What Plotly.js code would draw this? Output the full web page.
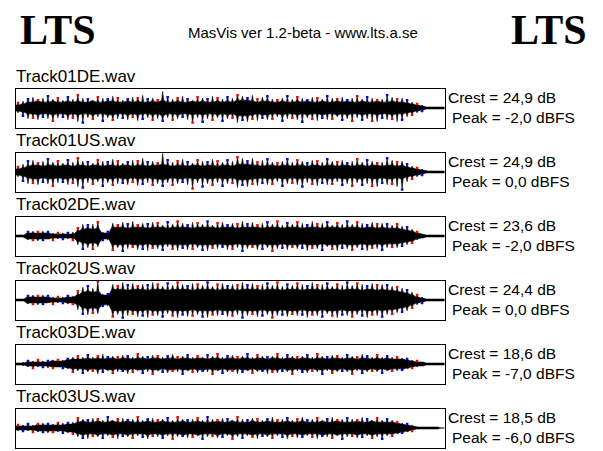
<!DOCTYPE html>
<html><head><meta charset="utf-8">
<script src="https://cdn.plot.ly/plotly-3.0.1.min.js"></script>
<style>html,body{margin:0;padding:0;background:#fff}#chart{width:603px;height:451px}</style>
</head><body><div id="chart"></div>
<script>
const trackNames = ['Track01DE.wav','Track01US.wav','Track02DE.wav','Track02US.wav','Track03DE.wav','Track03US.wav'];
const crestDb = ['24,9','24,9','23,6','24,4','18,6','18,5'];
const peakDbfs = ['-2,0','0,0','-2,0','0,0','-7,0','-6,0'];

// amplitude per column, box half-height = 20
const t1body = [3,4,6,6,7,6,6,7,6,6, 7,6,7,6,6,7,6,6,7,7, 6,6,7,6,7,6,6,7,6,8, 6,6,7,6,6,7,6,7,6,6, 7,6,7,6,8,8,8,7,6,7, 7,6,6,7,6,6,7,6,7,6, 6,7,6,6,7,6,7,6,6,7, 6,6,7,6,6,7,6,6,5,4, 3,2,1,1,1,1];
const t1up   = [5,7,9,11,8,10,12,9,10,8, 11,9,13,10,9,8,11,10,9,12, 10,8,9,11,10,13,9,10,8,17, 11,9,10,12,9,8,11,10,9,12, 10,9,11,10,13,12,10,13,9,11, 12,9,8,10,12,9,11,10,8,11, 10,9,12,10,9,11,8,10,12,9, 11,10,8,9,13,11,9,10,8,6, 4,3,1,1,1,1];
const t1dn   = [5,8,11,10,12,9,11,13,10,9, 12,10,14,15,10,11,9,13,10,12, 11,10,12,9,13,11,10,12,11,13, 10,12,11,9,12,15,10,14,11,12, 10,13,11,10,15,12,14,11,13,10, 12,11,9,13,11,10,12,14,10,11, 13,10,12,11,9,12,11,13,10,12, 11,13,14,10,12,11,14,12,9,7, 5,3,1,1,1,1];

const t2body = [3,4,6,7,7,6,7,7,6,7, 7,6,7,7,6,7,7,6,7,7, 6,7,7,6,7,7,6,7,7,8, 7,6,7,7,6,7,7,6,7,7, 6,7,7,6,8,8,8,7,7,6, 7,7,6,7,7,6,7,7,6,7, 7,6,7,7,6,7,7,6,7,7, 6,7,7,6,7,7,6,7,5,4, 3,2,1,1,1,1];
const t2up   = [5,8,11,12,9,11,13,10,11,9, 12,10,14,11,10,9,12,11,10,13, 11,9,10,12,11,14,10,11,9,19, 12,10,11,13,10,9,12,11,10,13, 11,10,12,11,15,14,11,14,10,12, 13,10,9,11,13,10,12,11,9,12, 11,10,13,11,10,12,9,11,13,10, 12,11,9,10,14,12,10,11,8,6, 4,3,1,1,1,1];
const t2dn   = [5,9,12,11,13,10,12,14,11,10, 13,11,15,16,11,12,10,14,11,13, 12,11,13,10,14,12,11,13,12,14, 11,13,12,10,13,17,11,15,12,13, 11,14,12,11,16,13,15,12,14,11, 13,12,10,14,12,11,13,15,11,12, 14,11,13,12,10,13,12,14,11,13, 12,14,15,11,13,12,15,18,10,7, 5,3,1,1,1,1];

const t3body = [1,1,3,3,3,3,3,2,2,2, 2,2,5,7,8,7,8,3,3,9, 9,9,8,9,9,9,8,9,9,9, 8,9,9,9,9,8,9,9,9,9, 8,9,9,9,8,9,9,9,9,8, 9,9,9,8,9,9,9,8,9,9, 9,8,9,9,9,8,9,9,9,8, 9,9,8,9,8,8,8,7,6,5, 3,2,1,1,1,1];
const t3up   = [1,1,4,5,4,5,4,3,3,3, 3,4,8,12,11,12,14,4,4,13, 11,14,12,15,11,13,12,14,13,11, 14,12,15,13,11,14,13,12,15,11, 13,14,11,13,12,15,12,14,11,13, 14,12,15,11,13,12,14,13,11,15, 12,13,14,11,13,12,15,12,14,13, 11,14,12,13,12,11,12,10,9,7, 4,2,1,1,1,1];
const t3dn   = [1,1,4,4,5,4,3,4,3,3, 3,4,9,13,12,13,11,4,4,14, 12,15,13,11,14,13,15,12,13,14, 11,13,15,12,14,13,12,14,15,12, 13,11,14,13,12,15,13,11,14,13, 12,15,13,12,14,11,13,12,15,12, 13,14,11,13,15,12,13,14,12,13, 15,12,13,14,12,11,12,10,9,7, 4,2,1,1,1,1];

const t4body = [1,1,3,3,3,3,3,2,2,2, 3,3,5,8,9,8,9,5,5,11, 11,11,10,11,11,11,10,11,11,11, 10,11,11,11,11,10,11,11,11,11, 10,11,11,11,10,11,11,11,11,10, 11,11,11,10,11,11,11,10,11,11, 11,10,11,11,11,10,11,11,11,10, 11,11,10,11,10,10,9,8,7,5, 3,2,1,1,1,1];
const t4up   = [1,1,4,5,4,5,4,3,3,3, 4,4,9,13,14,12,19,6,6,16, 14,18,15,17,14,16,15,18,16,14, 17,15,18,16,14,17,16,15,18,14, 16,17,14,16,15,18,15,17,14,16, 17,15,18,14,16,15,17,16,14,18, 15,16,17,14,16,15,18,15,17,16, 14,17,15,16,15,14,13,12,10,8, 5,3,1,1,1,1];
const t4dn   = [1,1,4,4,5,4,3,4,3,3, 4,4,10,14,15,13,14,6,6,17, 15,18,16,14,17,16,18,15,16,17, 14,16,18,15,17,16,15,17,18,15, 16,14,17,16,15,18,16,14,17,16, 15,18,16,15,17,14,16,15,18,15, 16,17,14,16,18,15,16,17,15,16, 18,15,16,17,15,14,13,12,11,8, 5,3,1,1,1,1];

const t5body = [1,1,2,2,2,2,2,3,3,3, 4,5,5,5,6,5,6,5,6,6, 5,6,6,5,6,6,5,6,6,5, 6,6,5,6,6,5,6,6,5,6, 6,5,6,6,5,6,6,5,6,6, 5,6,6,5,6,6,5,6,6,5, 6,6,5,6,6,5,6,6,5,6, 6,5,6,5,6,5,5,5,4,3, 2,2,1,1,1,1];
const t5up   = [1,2,3,3,4,3,3,4,4,4, 5,7,8,7,9,7,8,10,7,8, 7,9,8,7,10,8,7,9,8,7, 8,10,7,8,9,7,8,7,9,8, 10,7,8,9,7,8,10,7,9,8, 7,8,10,7,9,8,7,8,9,7, 10,8,7,9,8,7,9,8,7,10, 8,7,9,7,8,7,7,6,5,4, 3,2,1,1,1,1];
const t5dn   = [1,2,3,4,3,3,4,4,3,4, 5,8,7,9,8,7,10,8,7,9, 8,7,10,8,7,9,8,10,7,8, 9,7,8,10,7,8,9,7,8,10, 7,9,8,7,10,8,7,9,8,7, 10,8,9,7,8,10,7,8,9,7, 8,10,7,9,8,7,8,10,7,9, 8,7,8,9,7,7,7,6,5,4, 3,2,1,1,1,1];

const t6body = [2,2,2,2,3,3,3,3,3,3, 4,4,6,7,6,6,7,6,6,7, 6,6,7,6,6,6,7,6,6,7, 6,6,6,7,6,6,7,6,6,6, 7,6,6,7,6,6,6,7,6,6, 7,6,6,6,7,6,6,7,6,6, 6,7,6,6,7,6,6,6,7,6, 6,7,6,6,6,6,5,4,3,2, 1,1,1,1,1,0];
const t6up   = [3,3,4,3,4,5,4,4,5,5, 5,6,10,9,8,10,9,8,11,8, 9,10,8,9,11,8,9,10,8,9, 10,8,11,9,8,9,10,8,11,9, 8,10,9,8,11,9,8,10,9,8, 9,11,8,9,10,8,9,11,8,9, 10,8,9,11,8,9,10,9,8,11, 9,8,10,8,9,8,6,5,4,3, 1,1,1,1,1,0];
const t6dn   = [3,3,3,4,4,4,5,4,4,5, 5,6,9,10,11,8,9,10,8,9, 11,8,9,10,8,9,11,8,9,10, 8,11,9,8,10,9,8,11,9,8, 10,9,8,11,9,10,8,9,11,8, 9,10,8,9,11,8,10,9,8,9, 11,8,9,10,8,11,9,8,10,9, 8,10,9,11,8,8,6,5,4,3, 1,1,1,1,1,0];

const bodies = [t1body,t2body,t3body,t4body,t5body,t6body];
const ups = [t1up,t2up,t3up,t4up,t5up,t6up];
const dns = [t1dn,t2dn,t3dn,t4dn,t5dn,t6dn];

const W = 603, H = 451;
const boxTops = [88,152,216,280,344,408];
const boxH = 39;
const py = p => 1 - p / H;
const px = p => p / W;
const sans = 'Arial, "Liberation Sans", sans-serif';
const half = 0.2;   // half-width of each spike, in columns

const traces = [];
const layout = {
  width: W, height: H, margin: {l:0, r:0, t:0, b:0},
  paper_bgcolor: '#fff', plot_bgcolor: '#fff',
  showlegend: false, annotations: []
};

for (let k = 0; k < 6; k++) {
  const ax = k === 0 ? '' : String(k + 1);
  const body = bodies[k], up = ups[k], dn = dns[k];
  const n = body.length;
  const ox = [], oy = [];
  ox.push(-0.5); oy.push(body[0]);
  for (let i = 0; i < n; i++) {
    ox.push(i - half, i, i + half); oy.push(body[i], up[i], body[i]);
  }
  ox.push(n - 0.5); oy.push(body[n - 1]);
  ox.push(n - 0.5); oy.push(-body[n - 1]);
  for (let i = n - 1; i >= 0; i--) {
    ox.push(i + half, i, i - half); oy.push(-body[i], -dn[i], -body[i]);
  }
  ox.push(-0.5); oy.push(-body[0]);

  const tipX = [], tipY = [], tipC = [];
  up.forEach((v, i) => {
    if (v >= 3 && (i % 4 === 0 || i % 4 === 2)) { tipX.push(i); tipY.push(v); tipC.push(i % 4 === 0 ? '#ff0000' : '#0000ff'); }
  });
  dn.forEach((v, i) => {
    if (v >= 3 && (i % 4 === 1 || i % 4 === 3)) { tipX.push(i); tipY.push(-v); tipC.push(i % 4 === 1 ? '#0000ff' : '#ff0000'); }
  });

  traces.push({type:'scatter', mode:'lines', x: ox, y: oy, fill:'toself', fillcolor:'#000',
    line:{width:0.6, color:'#000'}, xaxis:'x'+ax, yaxis:'y'+ax, hoverinfo:'skip'});
  traces.push({type:'scatter', mode:'markers', x: tipX, y: tipY,
    marker:{symbol:'square', size:2.5, color: tipC, line:{width:0}},
    xaxis:'x'+ax, yaxis:'y'+ax, hoverinfo:'skip'});

  const top = boxTops[k];
  layout['xaxis'+ax] = {domain:[px(15.5), px(444.5)], range:[-0.5, n - 0.5], anchor:'y'+ax,
    showline:true, mirror:true, linecolor:'#000', linewidth:1, showgrid:false, zeroline:false,
    showticklabels:false, ticks:'', fixedrange:true};
  layout['yaxis'+ax] = {domain:[py(top + boxH + 0.5), py(top + 0.5)], range:[-20, 20], anchor:'x'+ax,
    showline:true, mirror:true, linecolor:'#000', linewidth:1, showgrid:false, zeroline:false,
    showticklabels:false, ticks:'', fixedrange:true};

  layout.annotations.push({xref:'paper', yref:'paper', x: px(14), y: py(top), xanchor:'left', yanchor:'bottom',
    text: trackNames[k], showarrow:false, font:{family:sans, size:17, color:'#000'}});
  layout.annotations.push({xref:'paper', yref:'paper', x: px(446), y: py(top + 19.6), xanchor:'left', yanchor:'bottom',
    text: 'Crest = ' + crestDb[k] + ' dB', showarrow:false, font:{family:sans, size:15.5, color:'#000'}});
  layout.annotations.push({xref:'paper', yref:'paper', x: px(450), y: py(top + 39.6), xanchor:'left', yanchor:'bottom',
    text: 'Peak = ' + peakDbfs[k] + ' dBFS', showarrow:false, font:{family:sans, size:15.5, color:'#000'}});
}

layout.annotations.push({xref:'paper', yref:'paper', x: px(18), y: py(30), xanchor:'left', yanchor:'middle',
  text: '<b>LTS</b>', showarrow:false, font:{family:'"Times New Roman", "Liberation Serif", serif', size:42, color:'#000'}});
layout.annotations.push({xref:'paper', yref:'paper', x: px(589), y: py(30), xanchor:'right', yanchor:'middle',
  text: '<b>LTS</b>', showarrow:false, font:{family:'"Times New Roman", "Liberation Serif", serif', size:42, color:'#000'}});
layout.annotations.push({xref:'paper', yref:'paper', x: px(303), y: py(33), xanchor:'center', yanchor:'middle',
  text: 'MasVis ver 1.2-beta - www.lts.a.se', showarrow:false, font:{family:sans, size:15, color:'#000'}});

Plotly.newPlot('chart', traces, layout, {staticPlot:true, displayModeBar:false});
</script>
</body></html>
